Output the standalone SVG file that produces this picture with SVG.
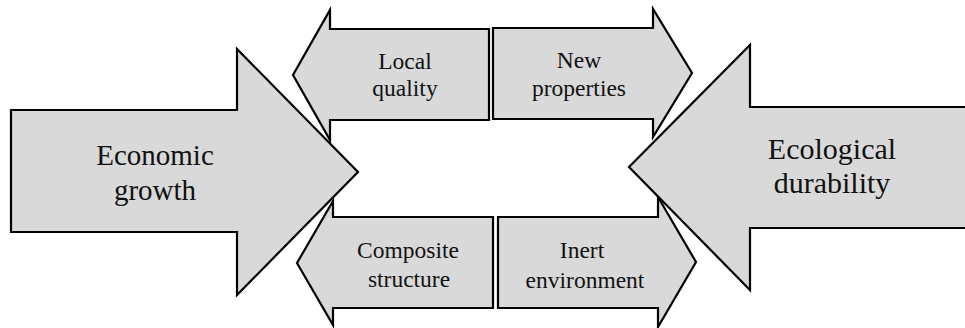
<svg xmlns="http://www.w3.org/2000/svg" width="965" height="328" viewBox="0 0 965 328">
<style>
.arr{fill:#d9d9d9;stroke:#000;stroke-width:2.2;stroke-linejoin:miter}
.big{font-size:29px;fill:#111;text-anchor:middle}
.sm{font-size:23.5px;fill:#111;text-anchor:middle}
</style>
<rect width="965" height="328" fill="#fff"/>
<g font-family="Liberation Serif">
<g id="local-quality">
<path class="arr" d="M489,29 L330,29 L330,10 L293,75 L330,140 L330,120 L489,120 Z"/>
<text class="sm" x="405" y="69" font-family="Liberation Serif">Local</text>
<text class="sm" x="405" y="96" font-family="Liberation Serif">quality</text>
</g>
<g id="new-properties">
<path class="arr" d="M493,28 L653,28 L653,9 L692,73 L653,137 L653,119 L493,119 Z"/>
<text class="sm" x="579" y="68" font-family="Liberation Serif">New</text>
<text class="sm" x="579" y="96" font-family="Liberation Serif">properties</text>
</g>
<g id="composite-structure">
<path class="arr" d="M493,217 L333,217 L333,201 L297,263 L333,325 L333,308 L493,308 Z"/>
<text class="sm" x="408" y="258" font-family="Liberation Serif">Composite</text>
<text class="sm" x="409" y="287" font-family="Liberation Serif">structure</text>
</g>
<g id="inert-environment">
<path class="arr" d="M498,217 L658,217 L658,197 L696,262 L658,327 L658,308 L498,308 Z"/>
<text class="sm" x="582" y="258" font-family="Liberation Serif">Inert</text>
<text class="sm" x="585" y="288" font-family="Liberation Serif">environment</text>
</g>
<g id="economic-growth">
<path class="arr" d="M11,110 L237,110 L237,49 L358,172 L237,295 L237,232 L11,232 Z"/>
<text class="big" x="155" y="165" font-family="Liberation Serif">Economic</text>
<text class="big" x="155" y="200" font-family="Liberation Serif">growth</text>
</g>
<g id="ecological-durability">
<path class="arr" d="M968,107 L750,107 L750,45 L629,167 L750,290 L750,228 L968,228 Z"/>
<text class="big" x="832" y="159" style="font-size:30px" font-family="Liberation Serif">Ecological</text>
<text class="big" x="832" y="193" style="font-size:30px" font-family="Liberation Serif">durability</text>
</g>
</g>
<g id="connectors"/>
</svg>
